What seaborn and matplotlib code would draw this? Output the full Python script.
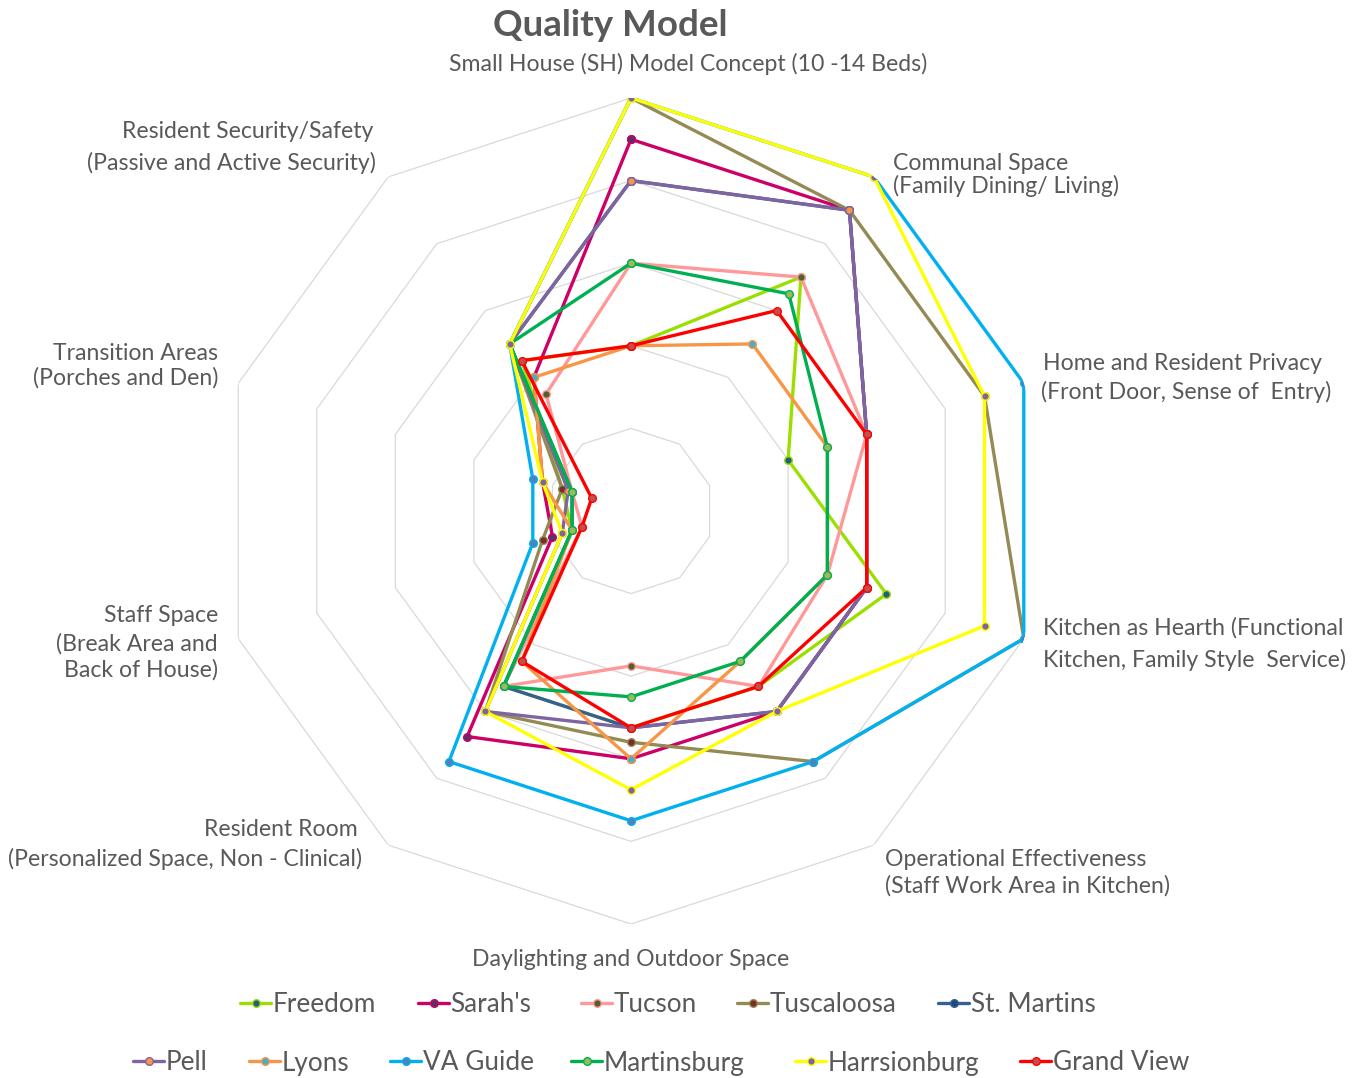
import numpy as np
import pandas as pd
import matplotlib
matplotlib.use("Agg")
import matplotlib.pyplot as plt
import seaborn as sns

# Radar axes, clockwise from the top
categories = [
    "Small House (SH) Model Concept (10 -14 Beds)",
    "Communal Space (Family Dining/ Living)",
    "Home and Resident Privacy (Front Door, Sense of Entry)",
    "Kitchen as Hearth (Functional Kitchen, Family Style Service)",
    "Operational Effectiveness (Staff Work Area in Kitchen)",
    "Daylighting and Outdoor Space",
    "Resident Room (Personalized Space, Non - Clinical)",
    "Staff Space (Break Area and Back of House)",
    "Transition Areas (Porches and Den)",
    "Resident Security/Safety (Passive and Active Security)",
]

series_names = ["Freedom", "Sarah's", "Tucson", "Tuscaloosa", "St. Martins",
                "Pell", "Lyons", "VA Guide", "Martinsburg", "Harrsionburg", "Grand View"]

freedom      = [2.0, 3.5, 2.0, 3.25, 2.625, 2.625, 2.625, 0.75, 0.875, 2.25]
sarahs       = [4.5, 4.5, 3.0, 3.0, 3.0, 3.0, 3.375, 1.0, 1.125, 2.0]
tucson       = [3.0, 3.5, 3.0, 2.5, 2.625, 1.875, 2.625, 0.625, 0.75, 1.75]
tuscaloosa   = [5.0, 4.5, 4.5, 5.0, 3.75, 2.8, 3.0, 1.125, 0.875, 2.5]
st_martins   = [4.0, 4.5, 3.0, 3.0, 3.0, 2.625, 2.625, 0.75, 0.75, 2.5]
pell         = [4.0, 4.5, 3.0, 3.0, 3.0, 2.625, 3.0, 0.875, 0.8, 2.5]
lyons        = [2.0, 2.5, 2.5, 2.5, 2.25, 3.0, 2.25, 0.75, 1.125, 2.0]
va_guide     = [5.0, 5.0, 5.0, 5.0, 3.75, 3.75, 3.75, 1.25, 1.25, 2.5]
martinsburg  = [3.0, 3.25, 2.5, 2.5, 2.25, 2.25, 2.625, 0.75, 0.75, 2.5]
harrsionburg = [5.0, 5.0, 4.5, 4.5, 3.0, 3.375, 3.0, 0.875, 1.125, 2.5]
grand_view   = [2.0, 3.0, 3.0, 3.0, 2.625, 2.625, 2.25, 0.625, 0.5, 2.25]

series_values = [freedom, sarahs, tucson, tuscaloosa, st_martins, pell,
                 lyons, va_guide, martinsburg, harrsionburg, grand_view]

line_colors = ["#9BDF00", "#CC0066", "#FF9999", "#948A54", "#366092", "#8064A2",
               "#F79646", "#00B0F0", "#00B050", "#FFFF00", "#FF0000"]
marker_faces = ["#215F7F", "#5A3068", "#4F6228", "#7A2C2A", "#1F497D", "#F79646",
                "#4BACC6", "#4F81BD", "#9BBB59", "#8064A2", "#C0504D"]

ring_levels = [1, 2, 3, 4, 5]

sns.set_theme(style="white")
plt.rcParams["font.family"] = ["Lato", "DejaVu Sans"]
TXT = "#595959"

W, H = 1364, 1078
fig = plt.figure(figsize=(W / 100, H / 100), dpi=100)
cx, cy, R = 631, 511, 413
ax = fig.add_axes([(cx - R) / W, (H - cy - R) / H, 2 * R / W, 2 * R / H], projection="polar")
ax.set_theta_zero_location("N")
ax.set_theta_direction(-1)
ax.set_ylim(0, 5)
ax.grid(False)
ax.set_xticks([])
ax.set_yticks([])
ax.spines["polar"].set_visible(False)
ax.patch.set_alpha(0)

n = len(categories)
theta = np.arange(n) * 2 * np.pi / n
theta_closed = np.append(theta, theta[0] + 2 * np.pi)

# decagon gridlines
for lvl in ring_levels:
    ax.plot(theta_closed, [lvl] * (n + 1), color="#D9D9D9", lw=0.9, zorder=0)

rows = []
for name, vals in zip(series_names, series_values):
    closed = list(vals) + [vals[0]]
    for t, v in zip(theta_closed, closed):
        rows.append({"series": name, "theta": t, "value": v})
df = pd.DataFrame(rows)

handles = []
for name, lc, mf in zip(series_names, line_colors, marker_faces):
    sub = df[df["series"] == name]
    sns.lineplot(data=sub, x="theta", y="value", ax=ax, sort=False, estimator=None,
                 color=lc, lw=2.4, marker="o", markersize=5.5, markerfacecolor=mf,
                 markeredgecolor=lc, markeredgewidth=1.0, label=name)
    handles.append(ax.lines[-1])
if ax.get_legend() is not None:
    ax.get_legend().remove()
ax.set_xlabel("")
ax.set_ylabel("")
ax.set_ylim(0, 5)


def ftext(x, y, s, ha="left", size=16.6, **kw):
    fig.text(x / W, 1 - y / H, s, ha=ha, va="center", fontsize=size, color=TXT, **kw)


ftext(610, 25, "Quality Model", ha="center", size=26.5, fontweight="bold")
ftext(688, 64, categories[0], ha="center")
ftext(893, 163, "Communal Space")
ftext(893, 186, "(Family Dining/ Living)")
ftext(1043, 363, "Home and Resident Privacy")
ftext(1041, 392, "(Front Door, Sense of  Entry)")
ftext(1043, 628, "Kitchen as Hearth (Functional")
ftext(1043, 660, "Kitchen, Family Style  Service)")
ftext(885, 859, "Operational Effectiveness")
ftext(885, 886, "(Staff Work Area in Kitchen)")
ftext(631, 959, categories[5], ha="center")
ftext(358, 830, "Resident Room", ha="right")
ftext(362, 859, "(Personalized Space, Non - Clinical)", ha="right")
ftext(218, 616, "Staff Space", ha="right")
ftext(218, 644, "(Break Area and", ha="right")
ftext(218, 670, "Back of House)", ha="right")
ftext(218, 353, "Transition Areas", ha="right")
ftext(218, 378, "(Porches and Den)", ha="right")
ftext(373, 131, "Resident Security/Safety", ha="right")
ftext(376, 163, "(Passive and Active Security)", ha="right")

# legend entries, two rows under the chart
legend_x = [240, 418, 581, 737, 938, 133, 249, 390, 571, 795, 1020]
legend_y = [1005] * 5 + [1063] * 6
leg_kw = dict(frameon=False, loc="center left", borderaxespad=0, borderpad=0,
              handlelength=1.2, handletextpad=0.05, fontsize=18.8, labelcolor=TXT)
for h, name, lx, ly in zip(handles, series_names, legend_x, legend_y):
    fig.legend([h], [name], bbox_to_anchor=(lx / W, 1 - ly / H), **leg_kw)

fig.savefig("out.png", dpi=100)
